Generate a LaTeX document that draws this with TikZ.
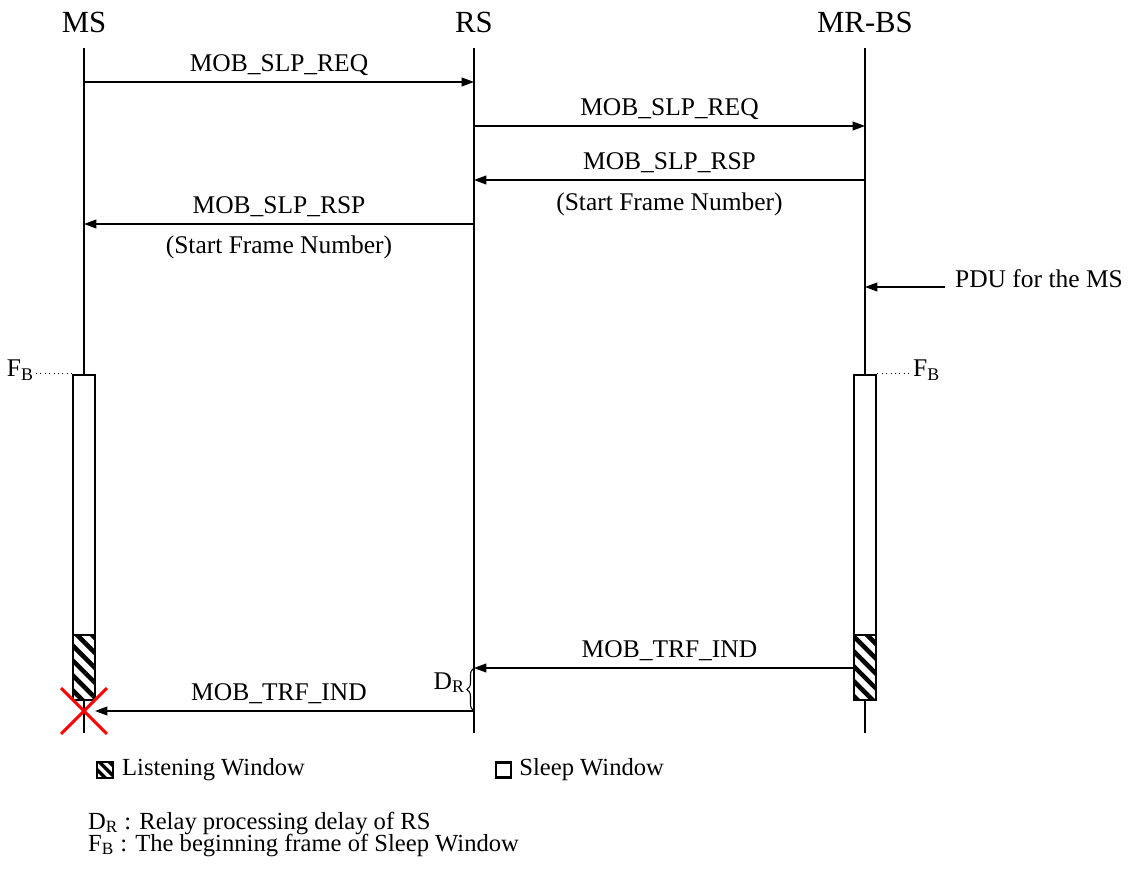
\documentclass[tikz,border=0pt]{standalone}
\usepackage{fontspec}
\setmainfont{Liberation Serif}
\usetikzlibrary{positioning, arrows.meta, patterns.meta, shapes.misc, decorations.pathreplacing}

\tikzset{
  head/.style={font=\fontsize{17.5}{20}\selectfont, inner sep=1pt},
  lbl/.style={font=\fontsize{14.5}{17}\selectfont, inner sep=1pt},
  note/.style={font=\fontsize{14}{16}\selectfont, inner sep=1pt},
  lifeline/.style={line width=0.8pt},
  msg/.style={-{Triangle[length=7pt,width=5pt]}, line width=0.8pt},
  sleepwin/.style={draw, fill=white, line width=1.6pt, minimum width=0.44cm, inner sep=0pt},
  listenwin/.style={sleepwin, preaction={fill=white},
    pattern={Lines[angle=-45,distance=6pt,line width=2.6pt]}},
  fbline/.style={dotted, line width=0.5pt},
}

\begin{document}
\begin{tikzpicture}[x=0.02cm, y=-0.02cm]
  \useasboundingbox (0,0) rectangle (1137,871);

  % entities
  \node[head] (ms) at (84,22) {MS};
  \node[head] (rs) at (474,22) {RS};
  \node[head] (bs) at (865,22) {MR-BS};

  \foreach \n/\y in {top/48,a/82,b/126,c/180,d/224,e/287,f/668,g/711,bot/733} {
    \coordinate (ms-\n) at (84,\y);
    \coordinate (rs-\n) at (474,\y);
    \coordinate (bs-\n) at (865,\y);
  }

  \draw[lifeline] (ms-top) -- (ms-bot);
  \draw[lifeline] (rs-top) -- (rs-bot);
  \draw[lifeline] (bs-top) -- (bs-bot);

  % sleep request / response
  \draw[msg] (ms-a) -- node[lbl, above=6pt, anchor=base] {MOB\_SLP\_REQ} (rs-a);
  \draw[msg] (rs-b) -- node[lbl, above=6pt, anchor=base] {MOB\_SLP\_REQ} (bs-b);
  \draw[msg] (bs-c) -- node[lbl, above=6pt, anchor=base] {MOB\_SLP\_RSP}
    node[lbl, below=17.5pt, anchor=base] {(Start Frame Number)} (rs-c);
  \draw[msg] (rs-d) -- node[lbl, above=6pt, anchor=base] {MOB\_SLP\_RSP}
    node[lbl, below=17pt, anchor=base] {(Start Frame Number)} (ms-d);

  % incoming pdu
  \coordinate (pdu) at (945,287);
  \node[lbl, anchor=base west] (pdu-lbl) at (953,288) {PDU for the MS};
  \draw[msg] (pdu) -- (bs-e);

  % traffic indication
  \draw[msg] (bs-f) -- node[lbl, above=6pt, anchor=base] {MOB\_TRF\_IND} (rs-f);
  \draw[msg, shorten >=0.22cm] (rs-g) -- node[lbl, above=6pt, anchor=base] {MOB\_TRF\_IND} (ms-g);

  % sleep and listening windows
  \node[sleepwin, minimum height=5.2cm] (ms-sleep) at (84,505) {};
  \node[listenwin, minimum height=1.3cm] (ms-listen) at (84,667.5) {};
  \node[sleepwin, minimum height=5.2cm] (bs-sleep) at (865,505) {};
  \node[listenwin, minimum height=1.3cm] (bs-listen) at (865,667.5) {};

  \node[lbl, anchor=base east] (fb-ms) at (36,377) {F\textsubscript{B}};
  \draw[fbline] (fb-ms.east |- ms-sleep.north west) -- (ms-sleep.north west);
  \node[lbl, anchor=base west] (fb-bs) at (911,377) {F\textsubscript{B}};
  \draw[fbline] (bs-sleep.north east) -- (fb-bs.west |- bs-sleep.north east);

  % relay delay
  \draw[decorate, decoration={brace, amplitude=4pt}, line width=0.6pt] (rs-g) -- (rs-f);
  \node[lbl, anchor=base east] (dr) at (467,689) {D\textsubscript{R}};

  % lost message
  \node[draw=red, cross out, line width=1.7pt, minimum size=0.86cm] (ms-lost) at (84,711) {};

  % legend
  \node[listenwin, minimum size=0.32cm, line width=1.2pt,
    pattern={Lines[angle=-45,distance=4pt,line width=2pt]}] (listen-key) at (105,770) {};
  \node[note, right=3pt of listen-key] (listen-txt) {Listening Window};
  \node[sleepwin, minimum size=0.3cm, line width=1.2pt] (sleep-key) at (503.5,770) {};
  \node[note, right=3pt of sleep-key] (sleep-txt) {Sleep Window};

  \node[note, anchor=base west] (dr-note) at (86,829) {D\textsubscript{R} : Relay processing delay of RS};
  \node[note, anchor=base west] (fb-note) at (86,851) {F\textsubscript{B} : The beginning frame of Sleep Window};
\end{tikzpicture}
\end{document}
